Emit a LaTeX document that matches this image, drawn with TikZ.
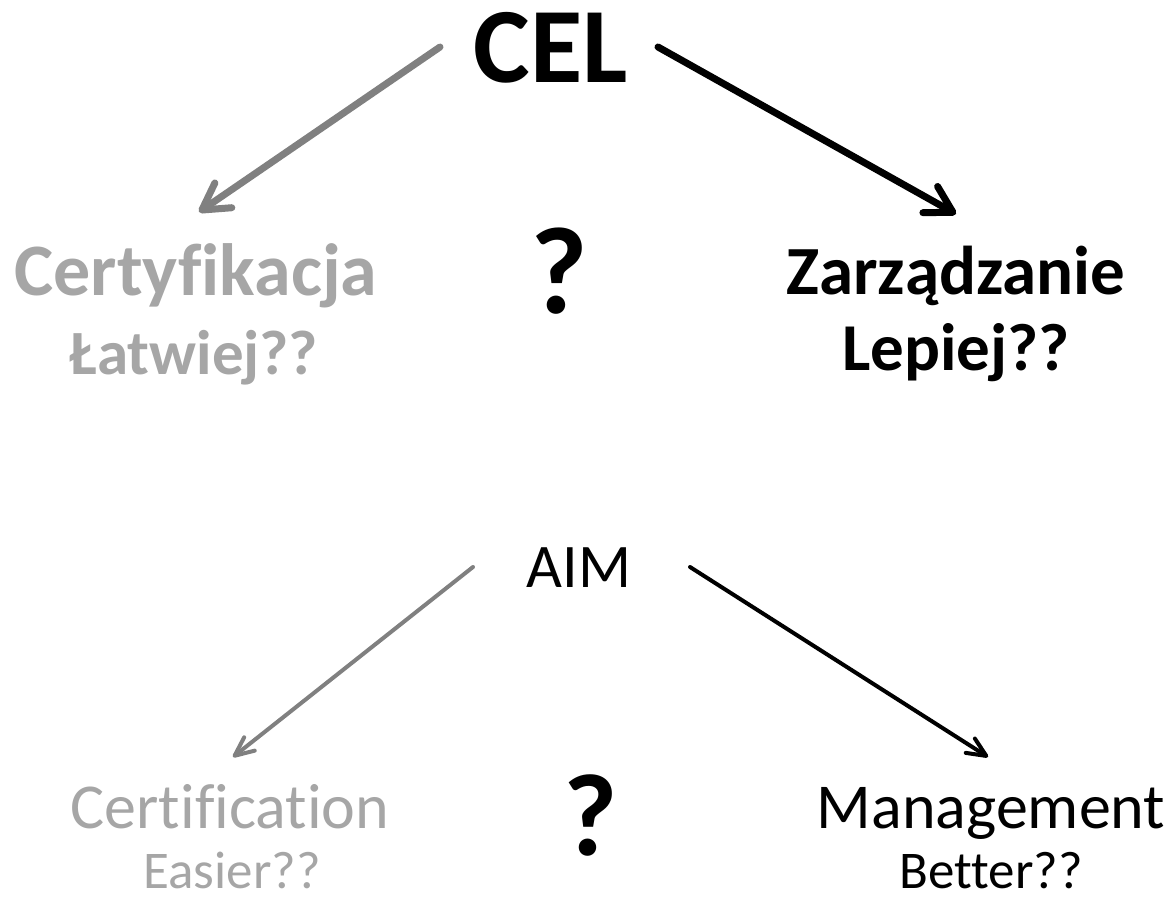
\documentclass[tikz,border=0pt]{standalone}
\usepackage{fontspec}
\setmainfont{Carlito}[Ligatures={NoCommon}]
\usetikzlibrary{arrows.meta}
\definecolor{arrgray}{HTML}{808080}
\definecolor{txtgray}{HTML}{A6A6A6}
\tikzset{
  lbl/.style={inner sep=0pt, anchor=base},
  thickarrow/.style={line width=7pt, line cap=round, -{Straight Barb[round, length=26pt, width=30pt, line width=7pt]}},
  thinarrow/.style={line width=4pt, line cap=round, -{Straight Barb[round, length=19pt, width=17pt, line width=4pt]}},
}
\begin{document}
\begin{tikzpicture}[x=1pt,y=-1pt]
\useasboundingbox (0,0) rectangle (1171,900);
% top
\node[lbl, font=\fontsize{107}{110}\selectfont\bfseries] (cel) at (551,82) {CEL};
\node[lbl, font=\fontsize{74}{76}\selectfont\bfseries, text=txtgray] (cert) at (196,295) {Certyfikacja};
\node[lbl, font=\fontsize{63}{66}\selectfont\bfseries, text=txtgray] (latw) at (194,374) {Łatwiej??};
\node[lbl, font=\fontsize{69}{72}\selectfont\bfseries] (zarz) at (956,294) {Zarządzanie};
\node[lbl, font=\fontsize{67}{70}\selectfont\bfseries] (lep) at (956,370) {Lepiej??};
\node[lbl, font=\fontsize{124}{128}\selectfont\bfseries] (q1) at (559,313) {?};
\coordinate (a1s) at (440,47);
\coordinate (a1e) at (199,212);
\coordinate (a2s) at (658,47);
\coordinate (a2e) at (956,214);
\draw[thickarrow, draw=arrgray] (a1s) -- (a1e);
\draw[thickarrow, draw=black] (a2s) -- (a2e);
% bottom
\node[lbl, font=\fontsize{62}{64}\selectfont] (aim) at (579,587) {AIM};
\node[lbl, font=\fontsize{64}{66}\selectfont, text=txtgray] (certen) at (230,828) {Certification};
\node[lbl, font=\fontsize{53}{55}\selectfont, text=txtgray] (easy) at (232,888) {Easier??};
\node[lbl, font=\fontsize{64}{66}\selectfont] (mgmt) at (991,828) {Management};
\node[lbl, font=\fontsize{53}{55}\selectfont] (bett) at (991,888) {Better??};
\node[lbl, font=\fontsize{117}{120}\selectfont\bfseries] (q2) at (591,855) {?};
\coordinate (b1s) at (473,567);
\coordinate (b1e) at (233,757);
\coordinate (b2s) at (690,567);
\coordinate (b2e) at (988,757);
\draw[thinarrow, draw=arrgray] (b1s) -- (b1e);
\draw[thinarrow, draw=black] (b2s) -- (b2e);
\end{tikzpicture}
\end{document}
